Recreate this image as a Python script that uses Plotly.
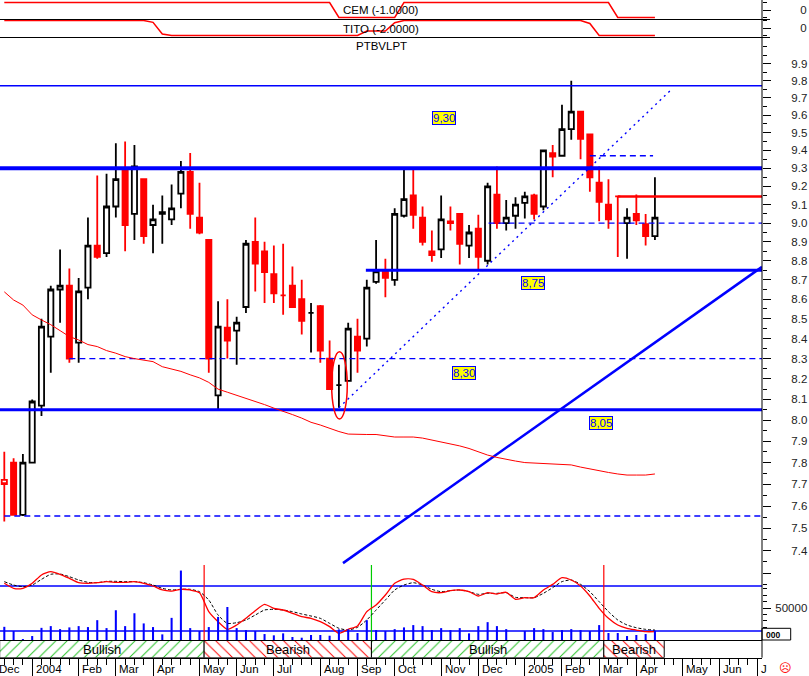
import numpy as np
import pandas as pd
import plotly.graph_objects as go

# ------------------------------------------------------------------ data
# weekly candles, first week ending Fri 12-Dec-2003
opens = [7.72, 7.80, 7.56, 7.80, 8.07, 8.41, 8.65, 8.67, 8.38, 8.66,
         8.88, 8.84, 9.09, 9.30, 9.05, 9.24, 8.99, 9.05, 9.02, 9.16,
         9.28, 9.03, 8.91, 8.12, 8.455, 8.44, 8.56, 8.90, 8.85, 8.73,
         8.62, 8.67, 8.60, 8.53, 8.565, 8.30, 8.17, 8.19, 8.41, 8.40,
         8.69, 8.75, 8.70, 9.04, 9.15, 9.03, 8.85, 8.86, 9.01, 9.05,
         8.88, 8.97, 8.80, 9.155, 9.00, 9.04, 9.11, 9.15, 9.09, 9.385,
         9.37, 9.52, 9.62, 9.49, 9.22, 9.10, 9.145, 9.00, 9.05, 8.995,
         8.93]
highs = [7.85, 7.82, 7.84, 8.10, 8.50, 8.67, 8.86, 8.76, 8.71, 9.03,
         9.26, 9.27, 9.44, 9.45, 9.43, 9.24, 9.10, 9.15, 9.21, 9.34,
         9.385, 9.22, 8.91, 8.59, 8.60, 8.51, 8.91, 9.03, 8.90, 8.88,
         8.89, 8.77, 8.70, 8.58, 8.57, 8.39, 8.27, 8.48, 8.50, 8.70,
         8.91, 8.81, 9.08, 9.30, 9.295, 9.09, 8.96, 9.15, 9.09, 9.05,
         8.99, 9.045, 9.22, 9.31, 9.125, 9.14, 9.17, 9.16, 9.40, 9.43,
         9.66, 9.80, 9.62, 9.49, 9.31, 9.24, 9.145, 9.08, 9.155, 9.05,
         9.25]
lows = [7.53, 7.56, 7.555, 7.80, 8.02, 8.23, 8.48, 8.28, 8.28, 8.60,
        8.81, 8.82, 9.03, 8.85, 8.91, 8.89, 8.84, 8.89, 8.99, 9.08,
        8.97, 8.94, 8.23, 8.05, 8.30, 8.27, 8.53, 8.64, 8.58, 8.58,
        8.52, 8.555, 8.42, 8.33, 8.28, 8.15, 8.06, 8.19, 8.23, 8.36,
        8.68, 8.61, 8.67, 9.03, 8.97, 8.88, 8.795, 8.815, 8.96, 8.78,
        8.815, 8.75, 8.78, 8.97, 8.96, 8.97, 9.025, 9.02, 9.07, 9.25,
        9.365, 9.46, 9.35, 9.17, 9.01, 8.97, 8.82, 8.81, 8.99, 8.88,
        8.91]
closes = [7.70, 7.56, 7.80, 8.09, 8.46, 8.65, 8.67, 8.30, 8.64, 8.88,
          8.82, 9.09, 9.24, 8.99, 9.31, 8.93, 9.02, 9.06, 9.08, 9.28,
          9.05, 8.95, 8.30, 8.46, 8.39, 8.48, 8.89, 8.785, 8.74, 8.63,
          8.62, 8.56, 8.49, 8.53, 8.34, 8.15, 8.17, 8.45, 8.34, 8.66,
          8.745, 8.71, 9.05, 9.13, 9.045, 8.90, 8.83, 9.02, 9.00, 8.89,
          8.95, 8.82, 9.20, 9.00, 9.03, 9.10, 9.145, 9.05, 9.40, 9.365,
          9.52, 9.62, 9.465, 9.25, 9.115, 9.02, 9.145, 9.03, 9.015, 8.93,
          9.03]
# n = normal, hr = hollow red, dr = red doji, db = black doji
candle_style = ['hr', 'n', 'n', 'n', 'n', 'n', 'n', 'n', 'n', 'n',
                'n', 'n', 'n', 'n', 'n', 'n', 'n', 'n', 'n', 'n',
                'n', 'n', 'n', 'n', 'n', 'n', 'n', 'n', 'n', 'n',
                'dr', 'n', 'n', 'db', 'n', 'n', 'db', 'n', 'n', 'n',
                'n', 'n', 'n', 'n', 'n', 'n', 'n', 'n', 'hr', 'n',
                'n', 'n', 'n', 'n', 'n', 'n', 'n', 'n', 'n', 'n',
                'n', 'n', 'n', 'n', 'n', 'n', 'dr', 'n', 'n', 'n',
                'n']
moving_avg = [8.638, 8.596, 8.57, 8.52, 8.494, 8.47, 8.44, 8.41, 8.393, 8.37,
              8.36, 8.34, 8.327, 8.31, 8.30, 8.293, 8.285, 8.26, 8.247, 8.237,
              8.22, 8.205, 8.183, 8.15, 8.135, 8.12, 8.107, 8.092, 8.075, 8.058,
              8.044, 8.027, 8.01, 7.99, 7.977, 7.96, 7.946, 7.934, 7.932, 7.932,
              7.932, 7.925, 7.92, 7.92, 7.92, 7.915, 7.906, 7.899, 7.89, 7.878,
              7.866, 7.85, 7.835, 7.824, 7.814, 7.807, 7.80, 7.798, 7.796, 7.793,
              7.791, 7.789, 7.779, 7.77, 7.76, 7.754, 7.747, 7.742, 7.742, 7.742,
              7.747]
volumes = [20600, 14000, 1500, 6200, 19000, 21700, 17000, 19700, 21700, 20200,
           31000, 18600, 46500, 21700, 41800, 25900, 20200, 8800, 34600, 108500,
           18600, 14000, 20200, 36100, 51600, 18600, 15500, 14000, 9300, 7300,
           10400, 4700, 3600, 7800, 7800, 6700, 16600, 16600, 10900, 31000,
           15500, 14000, 17000, 19700, 23300, 21700, 15500, 18600, 15500, 18600,
           10400, 21700, 27900, 21700, 17000, 0, 14000, 18600, 17000, 12400,
           15500, 17000, 15500, 14000, 23300, 10900, 10900, 6200, 7800, 9300,
           14400]
stoch_k = [83.6, 76.9, 76.9, 83.6, 94.7, 99.1, 95.6, 90.2, 84.4, 83.6,
           84.4, 85.8, 84.9, 84.9, 85.8, 83.6, 80.0, 74.7, 73.3, 75.6,
           74.7, 71.1, 45.8, 32.4, 22.2, 28.0, 36.9, 47.1, 55.6, 50.2,
           48.0, 43.6, 39.1, 36.9, 32.4, 25.8, 16.9, 22.2, 26.7, 45.8,
           54.7, 68.0, 83.6, 89.3, 88.9, 81.3, 72.4, 71.1, 73.8, 74.7,
           72.4, 66.7, 71.1, 69.3, 71.6, 62.2, 64.4, 64.4, 74.7, 82.2,
           91.1, 88.0, 80.0, 66.7, 50.2, 36.9, 28.0, 23.6, 21.3, 19.1,
           19.1]
stoch_d = [85.8, 81.3, 79.1, 81.3, 88.9, 95.6, 96.0, 92.4, 88.0, 84.9,
           84.4, 86.2, 86.2, 85.8, 85.8, 84.4, 81.3, 76.9, 74.7, 75.6,
           75.6, 72.4, 61.3, 41.3, 30.2, 31.1, 34.7, 41.3, 48.0, 48.9,
           48.0, 45.8, 42.7, 40.0, 36.9, 30.2, 23.6, 21.3, 24.9, 34.7,
           48.0, 61.3, 74.7, 81.3, 84.4, 81.3, 75.6, 72.4, 73.8, 74.7,
           72.4, 68.9, 70.2, 70.2, 71.1, 64.9, 64.4, 64.4, 70.2, 77.8,
           85.8, 88.0, 82.2, 72.4, 59.1, 45.8, 34.7, 28.0, 24.4, 22.2,
           21.3]
stoch_levels = [80, 20]
cem_signal = [1, 1, 1, 1, 1, 1, 1, 1, 1, 1,
              1, 1, 1, 1, 1, 1, 1, 1, 1, 1,
              1, 1, 1, 1, 1, 1, 1, 1, 1, 1,
              1, 1, 1, 1, 1, 1, -1, -1, -1, -1,
              -1, -1, -1, 1, 1, 1, 1, 1, 1, 1,
              1, 1, 1, 1, 1, 1, 1, 1, 1, 1,
              1, 1, 1, 1, 1, 1, -1, -1, -1, -1,
              -1]
tito_signal = [1, 1, 1, 1, 1, 1, 1, 1, 1, 1,
               1, 1, 1, 1, 1, 1, 0.75, -0.8, -1, -1,
               -1, -1, -1, -1, -1, -1, -1, -1, -1, -1,
               -1, -1, -1, -1, -1, -1, -1, -1, -1, -0.4,
               -0.4, -0.4, 0.7, 1, 1, 1, 1, 1, 1, 1,
               1, 1, 1, 1, 1, 1, 1, 1, 1, 1,
               1, 1, 1, 0.6, -1, -1, -1, -1, -1, -1,
               -1]

# analysis drawings (week index / price)
hline_price = [9.77, 9.30, 9.37, 9.00, 8.75, 8.30, 8.05, 7.555]
hline_from = [None, None, 63, 52.1, 38.9, 7, None, 0]
hline_to = [None, None, 69.8, None, None, None, None, None]
dotted_trend_x = [36, 71.8]
dotted_trend_y = [8.06, 9.75]
solid_trend_x = [36.44, 81.52]
solid_trend_y = [7.345, 8.768]
stop_line_from = 66
stop_line_price = 9.145
circle_x = [35.22, 36.90]
circle_y = [8.006, 8.334]
price_labels = ['9,30', '8,75', '8,30', '8,05']
price_label_x = [47.28, 56.85, 49.46, 64.2]
price_label_y = [9.586, 8.685, 8.230, 7.988]

# signal regimes
signal_change = [21.5, 39.5, 64.5]
regime_start = [-0.5, 21.5, 39.5, 64.5]
regime_end = [21.5, 39.5, 64.5, 71.0]
regime_label = ['Bullish', 'Bearish', 'Bullish', 'Bearish']

month_labels = ['Dec', '2004', 'Feb', 'Mar', 'Apr', 'May', 'Jun', 'Jul', 'Aug',
                'Sep', 'Oct', 'Nov', 'Dec', '2005', 'Feb', 'Mar', 'Apr', 'May',
                'Jun', 'J']
price_ticks = [7.3, 7.4, 7.5, 7.6, 7.7, 7.8, 7.9, 8.0, 8.1, 8.2, 8.3, 8.4, 8.5,
               8.6, 8.7, 8.8, 8.9, 9.0, 9.1, 9.2, 9.3, 9.4, 9.5, 9.6, 9.7, 9.8, 9.9]
price_minor = [7.25, 7.35, 7.45, 7.55, 7.65, 7.75, 7.85, 7.95, 8.05, 8.15, 8.25,
               8.35, 8.45, 8.55, 8.65, 8.75, 8.85, 8.95, 9.05, 9.15, 9.25, 9.35,
               9.45, 9.55, 9.65, 9.75, 9.85, 9.95, 10.0]

# ------------------------------------------------------------------ layout helpers
W, H = 809, 676
X_MIN, X_MAX = -0.463, 81.52
FONT = 'Liberation Sans'
BLUE, RED, GREEN = '#0000ff', '#ff0000', '#22c022'


def py(px):
    return 1 - px / H


def xpaper(idx):
    return (idx - X_MIN) / (X_MAX - X_MIN)


n = len(opens)
weeks = list(range(n))
week_end = pd.date_range('2003-12-12', periods=n, freq='W-FRI')

# month ticks at the first weekly bar of each month
all_weeks = pd.date_range('2003-12-05', '2005-07-01', freq='W-FRI')
month_ticks = [k - 1 for k, d in enumerate(all_weeks)
               if k == 0 or d.month != all_weeks[k - 1].month]

fig = go.Figure()

# horizontal levels
hl_width = [1.5, 4, 1.4, 1.4, 3, 1.4, 3, 1.4]
hl_dash = ['solid', 'solid', '6px,4px', '6px,4px', 'solid', '6px,4px', 'solid', '6px,4px']
for p, a, b, w, d in zip(hline_price, hline_from, hline_to, hl_width, hl_dash):
    xa = -1 if a is None else a
    xb = 82.5 if b is None else b
    fig.add_trace(go.Scatter(x=[xa, xb], y=[p, p], mode='lines',
                             line=dict(color=BLUE, width=w, dash=d),
                             xaxis='x', yaxis='y', hoverinfo='skip', showlegend=False))

fig.add_trace(go.Scatter(x=solid_trend_x, y=solid_trend_y, mode='lines',
                         line=dict(color=BLUE, width=2.5), xaxis='x', yaxis='y',
                         hoverinfo='skip', showlegend=False))
fig.add_trace(go.Scatter(x=dotted_trend_x, y=dotted_trend_y, mode='lines',
                         line=dict(color=BLUE, width=1.4, dash='2px,4px'), xaxis='x', yaxis='y',
                         hoverinfo='skip', showlegend=False))
fig.add_trace(go.Scatter(x=[stop_line_from, 82.5], y=[stop_line_price, stop_line_price],
                         mode='lines', line=dict(color=RED, width=2.5), xaxis='x', yaxis='y',
                         hoverinfo='skip', showlegend=False))
# moving average
fig.add_trace(go.Scatter(x=weeks, y=moving_avg, mode='lines', line=dict(color=RED, width=1),
                         xaxis='x', yaxis='y', showlegend=False))


def pick(style):
    idx = [i for i, s in enumerate(candle_style) if s == style]
    return dict(x=idx, open=[opens[i] for i in idx], high=[highs[i] for i in idx],
                low=[lows[i] for i in idx], close=[closes[i] for i in idx],
                text=[week_end[i].strftime('%d %b %Y') for i in idx])


CW = 1.8
fig.add_trace(go.Candlestick(**pick('n'), xaxis='x', yaxis='y', whiskerwidth=0,
                             increasing=dict(line=dict(color='black', width=CW), fillcolor='white'),
                             decreasing=dict(line=dict(color=RED, width=CW), fillcolor=RED),
                             showlegend=False))
fig.add_trace(go.Candlestick(**pick('hr'), xaxis='x', yaxis='y', whiskerwidth=0,
                             increasing=dict(line=dict(color=RED, width=CW), fillcolor='white'),
                             decreasing=dict(line=dict(color=RED, width=CW), fillcolor='white'),
                             showlegend=False))
fig.add_trace(go.Candlestick(**pick('dr'), xaxis='x', yaxis='y', whiskerwidth=0,
                             increasing=dict(line=dict(color=RED, width=CW), fillcolor=RED),
                             decreasing=dict(line=dict(color=RED, width=CW), fillcolor=RED),
                             showlegend=False))
fig.add_trace(go.Candlestick(**pick('db'), xaxis='x', yaxis='y', whiskerwidth=0,
                             increasing=dict(line=dict(color='black', width=CW), fillcolor='black'),
                             decreasing=dict(line=dict(color='black', width=CW), fillcolor='black'),
                             showlegend=False))

# CEM / TITO panels
fig.add_trace(go.Scatter(x=weeks, y=cem_signal, mode='lines', line=dict(color=RED, width=1.5),
                         xaxis='x', yaxis='y2', showlegend=False))
fig.add_trace(go.Scatter(x=weeks, y=tito_signal, mode='lines', line=dict(color=RED, width=1.5),
                         xaxis='x', yaxis='y3', showlegend=False))

# stochastic + volume panel
for lv in stoch_levels:
    fig.add_trace(go.Scatter(x=[-1, 82.5], y=[lv, lv], mode='lines',
                             line=dict(color=BLUE, width=1.3), xaxis='x', yaxis='y4',
                             hoverinfo='skip', showlegend=False))
for xc, col in zip(signal_change, [RED, '#00cc00', RED]):
    fig.add_trace(go.Scatter(x=[xc, xc], y=[8, 108], mode='lines',
                             line=dict(color=col, width=1.2), xaxis='x', yaxis='y4',
                             hoverinfo='skip', showlegend=False))
fig.add_trace(go.Bar(x=weeks, y=volumes, width=0.22, marker=dict(color=BLUE, line=dict(width=0)),
                     xaxis='x', yaxis='y5', showlegend=False))
fig.add_trace(go.Scatter(x=weeks, y=stoch_d, mode='lines',
                         line=dict(color='black', width=1, dash='3px,2px', shape='spline', smoothing=0.6),
                         xaxis='x', yaxis='y4', showlegend=False))
fig.add_trace(go.Scatter(x=weeks, y=stoch_k, mode='lines',
                         line=dict(color=RED, width=1.3, shape='spline', smoothing=0.6),
                         xaxis='x', yaxis='y4', showlegend=False))

# regime bar
reg_len = [e - s for s, e in zip(regime_start, regime_end)]
reg_colors = [GREEN if r == 'Bullish' else RED for r in regime_label]
reg_shape = ['/' if r == 'Bullish' else '\\' for r in regime_label]
fig.add_trace(go.Bar(y=[0] * len(reg_len), x=reg_len, base=regime_start, orientation='h', width=1,
                     marker=dict(color='white', line=dict(color='black', width=1),
                                 pattern=dict(shape=reg_shape, fgcolor=reg_colors, bgcolor='white',
                                              size=8, solidity=0.12)),
                     xaxis='x', yaxis='y6', showlegend=False, hoverinfo='skip'))

# ------------------------------------------------------------------ annotations
ann = []
for s, e, t in zip(regime_start, regime_end, regime_label):
    ann.append(dict(x=(max(s, X_MIN) + e) / 2, y=0, xref='x', yref='y6', text=t, showarrow=False,
                    xanchor='center', yanchor='middle',
                    font=dict(family=FONT, size=13, color='black'), yshift=-1))
for t, xv, yv in zip(price_labels, price_label_x, price_label_y):
    ann.append(dict(x=xv, y=np.log10(yv), xref='x', yref='y', text=t, showarrow=False,
                    xanchor='center', yanchor='middle',
                    font=dict(family=FONT, size=11.5, color=BLUE), bgcolor='#ffff00',
                    bordercolor=BLUE, borderwidth=1, borderpad=0))
for tk, lab in zip(month_ticks, month_labels):
    ann.append(dict(x=xpaper(tk), y=py(669), xref='paper', yref='paper', text=lab,
                    showarrow=False, xanchor='left', yanchor='middle', xshift=1.5,
                    font=dict(family=FONT, size=11.5, color='black')))
for txt, ypx in [('CEM (-1.0000)', 10), ('TITO (-2.0000)', 28.5), ('PTBVLPT', 46)]:
    ann.append(dict(x=0.5, y=py(ypx), xref='paper', yref='paper', text=txt, showarrow=False,
                    xanchor='center', yanchor='middle',
                    font=dict(family=FONT, size=11.5, color='black')))
ann.append(dict(x=764.5 / 762, y=py(634.5), xref='paper', yref='paper', text='<b>000</b>',
                showarrow=False, xanchor='left', yanchor='middle',
                font=dict(family=FONT, size=8.5, color='black')))
ann.append(dict(x=785 / 762, y=py(668), xref='paper', yref='paper', text='☹', showarrow=False,
                xanchor='center', yanchor='middle',
                font=dict(family='DejaVu Sans', size=12, color=RED)))

# ------------------------------------------------------------------ shapes
shapes = [
    dict(type='line', xref='paper', yref='paper', x0=0, x1=770 / 762, y0=py(19.5), y1=py(19.5),
         line=dict(color='black', width=1)),
    dict(type='line', xref='paper', yref='paper', x0=0, x1=770 / 762, y0=py(37.5), y1=py(37.5),
         line=dict(color='black', width=1)),
    dict(type='line', xref='paper', yref='paper', x0=0, x1=1, y0=py(640.5), y1=py(640.5),
         line=dict(color='black', width=1)),
    dict(type='line', xref='paper', yref='paper', x0=1, x1=1, y0=py(657.7), y1=1,
         line=dict(color='black', width=1)),
    dict(type='rect', xref='paper', yref='paper', x0=1, x1=790.7 / 762, y0=py(640), y1=py(628.3),
         line=dict(color='black', width=1)),
    dict(type='circle', xref='x', yref='y', x0=circle_x[0], x1=circle_x[1],
         y0=circle_y[0], y1=circle_y[1], line=dict(color=RED, width=1.5)),
]

# ------------------------------------------------------------------ axes
tickfont = dict(family=FONT, size=11.5, color='#222')
common_y = dict(showgrid=False, zeroline=False, showline=False, fixedrange=True)
main_lo = np.log10(9.3 * np.exp((168.3 - 640) / 1673))
main_hi = np.log10(9.3 * np.exp((168.3 - 37) / 1673))

fig.update_layout(
    width=W, height=H, template='none',
    margin=dict(l=0, r=W - 762, t=0, b=0, pad=0, autoexpand=False),
    paper_bgcolor='white', plot_bgcolor='rgba(0,0,0,0)',
    showlegend=False, boxgap=0.44, boxgroupgap=0, barmode='overlay',
    annotations=ann, shapes=shapes,
    xaxis=dict(range=[X_MIN, X_MAX], anchor='y6', showgrid=False, zeroline=False,
               showline=True, linecolor='black', linewidth=1, showticklabels=False,
               tickmode='array', tickvals=month_ticks, ticks='outside', ticklen=18,
               tickcolor='black', tickwidth=1,
               minor=dict(tickmode='linear', tick0=0, dtick=1, ticks='outside', ticklen=6,
                          tickcolor='black', tickwidth=1),
               rangeslider=dict(visible=False), fixedrange=True),
    yaxis=dict(type='log', range=[main_lo, main_hi], domain=[py(640), py(37)], side='right',
               anchor='x', tickmode='array', tickvals=price_ticks,
               ticktext=['' if v < 7.35 else f'{v:.1f}' for v in price_ticks],
               ticks='outside', ticklen=8, tickcolor='black', tickfont=tickfont,
               ticklabelstandoff=18,
               minor=dict(tickmode='array', tickvals=price_minor, ticks='outside', ticklen=4,
                          tickcolor='black'), **common_y),
    yaxis2=dict(range=[-1.2, 1.333], domain=[py(19), 1], side='right', anchor='x',
                tickmode='array', tickvals=[0], ticktext=['0'], ticks='outside', ticklen=8,
                tickcolor='black', tickfont=tickfont, ticklabelstandoff=27,
                minor=dict(tickmode='array', tickvals=[-1, 1], ticks='outside', ticklen=4,
                           tickcolor='black'), **common_y),
    yaxis3=dict(range=[-1.2, 1.2], domain=[py(37), py(19)], side='right', anchor='x',
                tickmode='array', tickvals=[0], ticktext=['0'], ticks='outside', ticklen=8,
                tickcolor='black', tickfont=tickfont, ticklabelstandoff=27,
                minor=dict(tickmode='array', tickvals=[-1, 1], ticks='outside', ticklen=4,
                           tickcolor='black'), **common_y),
    yaxis4=dict(range=[8, 114.667], domain=[py(640), py(560)], anchor='x', side='right',
                showticklabels=False, ticks='', **common_y),
    yaxis5=dict(range=[0, 125000], overlaying='y4', side='right', anchor='x',
                tickmode='array', tickvals=[50000], ticktext=['50000'], ticks='outside',
                ticklen=8, tickcolor='black', tickfont=tickfont, ticklabelstandoff=2,
                minor=dict(tickmode='array', tickvals=[20000, 30000, 40000, 60000, 70000, 80000],
                           ticks='outside', ticklen=4, tickcolor='black'), **common_y),
    yaxis6=dict(range=[-0.5, 0.5], domain=[py(657.7), py(640)], anchor='x',
                showticklabels=False, ticks='', **common_y),
)

fig.write_html('out.html', config={'displayModeBar': False},
               post_script="document.body.style.margin='0';document.body.style.overflow='hidden';")
